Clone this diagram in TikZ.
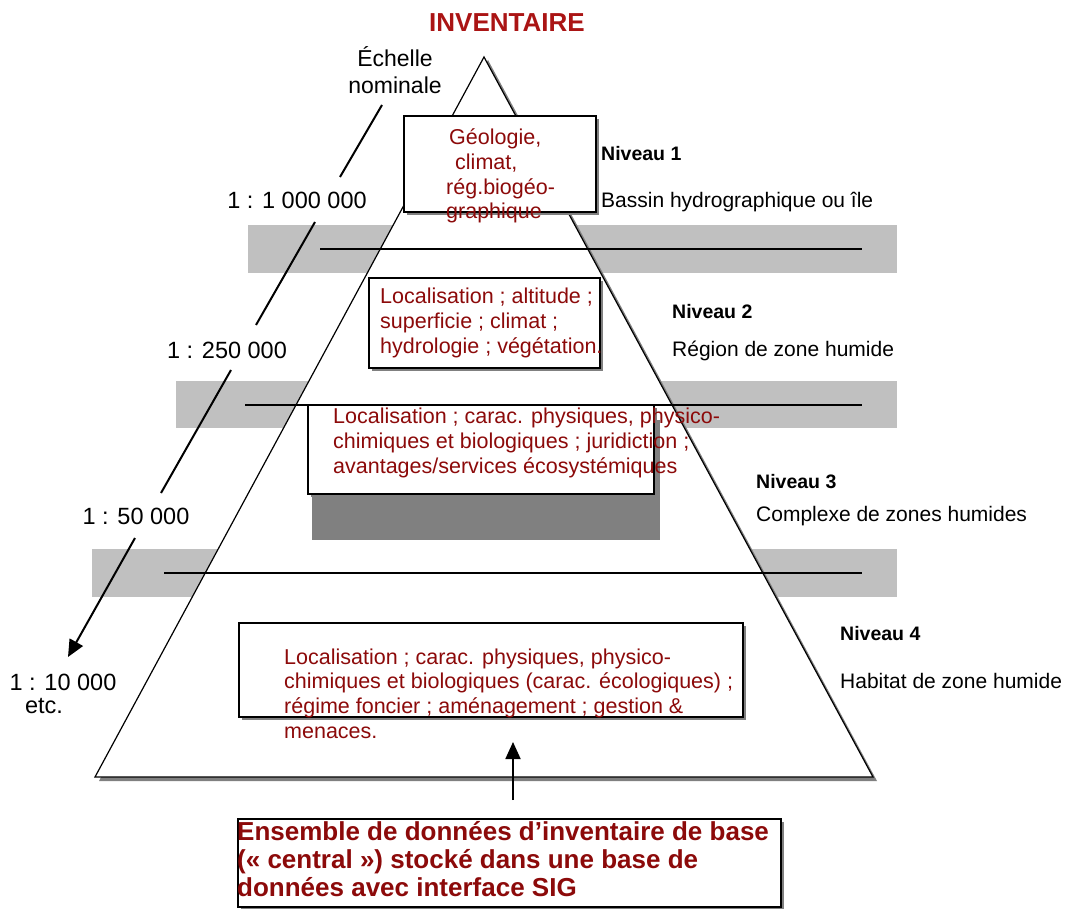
\documentclass[tikz,border=0pt]{standalone}
\usepackage{fontspec}
\setmainfont{Liberation Sans}
\usetikzlibrary{arrows.meta}
\definecolor{boxred}{RGB}{140,10,10}
\definecolor{titlered}{RGB}{170,20,20}
\definecolor{bandgrey}{RGB}{192,192,192}
\definecolor{shadegrey}{RGB}{128,128,128}

\begin{document}
\begin{tikzpicture}[x=1pt,y=-1pt,
    boxtext/.style={text=boxred,font=\fontsize{21.5}{24.8}\selectfont,align=left,anchor=base west,inner sep=0pt},
    scaletext/.style={font=\fontsize{23.5}{27}\selectfont,align=center,anchor=base,inner sep=0pt},
    leveltitle/.style={font=\bfseries\fontsize{19.5}{22}\selectfont,anchor=base west,inner sep=0pt},
    leveltext/.style={font=\fontsize{21}{24}\selectfont,anchor=base west,inner sep=0pt},
    framebox/.style={fill=white,draw=black,line width=1.2pt},
    boxshadow/.style={fill=shadegrey}]
  \useasboundingbox (0,0) rectangle (1067,909);

  % grey bands between the levels
  \fill[bandgrey] (248,225) rectangle (897,273);
  \fill[bandgrey] (176,381) rectangle (897,428);
  \fill[bandgrey] (92,549) rectangle (897,597);

  % pyramid with its shadow
  \fill[shadegrey] (488,60) -- (877,781) -- (99,781) -- cycle;
  \draw[fill=white,line width=1.2pt] (484,57) -- (873,777) -- (95,777) -- cycle;

  \begin{scope}[line width=1.2pt]
    \draw (320,249) -- (862,249);
    \draw (245,405) -- (862,405);
    \draw (164,573) -- (862,573);
  \end{scope}

  % level boxes
  \fill[boxshadow] (407,119) rectangle (599,215);
  \draw[framebox] (404,116) rectangle (596,212);
  \fill[boxshadow] (372,281) rectangle (603,371);
  \draw[framebox] (369,278) rectangle (600,368);
  \fill[shadegrey] (312,420) rectangle (660,540);
  \fill[boxshadow] (311,408) rectangle (657,497);
  \draw[framebox] (308,405) rectangle (654,494);
  \fill[boxshadow] (242,626) rectangle (746,720);
  \draw[framebox] (239,623) rectangle (743,717);
  \fill[boxshadow] (241,822) rectangle (784,910);
  \draw[framebox] (238,819) rectangle (781,907);

  \node (title) at (507,31.5) [anchor=base,inner sep=0pt,text=titlered,font=\bfseries\fontsize{26}{30}\selectfont] {INVENTAIRE};

  \node (geo) at (446,219) [boxtext] {\hspace*{3pt}Géologie,\\ \hspace*{9pt}climat,\\ rég.biogéo-\\ graphique};
  \node (loc2) at (380,353.5) [boxtext] {Localisation ; altitude ;\\ superficie ; climat ;\\ hydrologie ; végétation.};
  \node (loc3) at (333,473.5) [boxtext] {Localisation ; carac. physiques, physico-\\ chimiques et biologiques ; juridiction ;\\ avantages/services écosystémiques};
  \node (loc4) at (284,738.5) [boxtext] {Localisation ; carac. physiques, physico-\\ chimiques et biologiques (carac. écologiques) ;\\ régime foncier ; aménagement ; gestion \&\\ menaces.};
  \node (central) at (237,896) [boxtext,font=\bfseries\fontsize{26}{27.6}\selectfont] {Ensemble de données d’inventaire de base\\ (« central ») stocké dans une base de\\ données avec interface SIG};

  % level names
  \node (niv1) at (601,161) [leveltitle] {Niveau 1};
  \node (bassin) at (601,208) [leveltext] {Bassin hydrographique ou île};
  \node (niv2) at (672,318) [leveltitle] {Niveau 2};
  \node (region) at (672,356) [leveltext] {Région de zone humide};
  \node (niv3) at (756,488) [leveltitle] {Niveau 3};
  \node (complexe) at (756,521) [leveltext] {Complexe de zones humides};
  \node (niv4) at (840,640) [leveltitle] {Niveau 4};
  \node (habitat) at (840,688) [leveltext] {Habitat de zone humide};

  % nominal scale
  \node (echelle) at (395,94) [scaletext,font=\fontsize{23}{27}\selectfont] {Échelle\\ nominale};
  \node (s1) at (297,209) [scaletext] {1 : 1 000 000};
  \node (s2) at (227,358) [scaletext] {1 : 250 000};
  \node (s3) at (136,524) [scaletext] {1 : 50 000};
  \node (s4) at (63,690) [scaletext] {1 : 10 000};
  \node (etc) at (44,713) [scaletext] {etc.};

  \coordinate (a0) at (382,105);
  \coordinate (a1) at (340,177);
  \coordinate (b0) at (315,222);
  \coordinate (b1) at (256,325);
  \coordinate (c0) at (231,370);
  \coordinate (c1) at (161,493);
  \coordinate (d0) at (135,538);
  \coordinate (d1) at (68,657);
  \begin{scope}[line width=2pt]
    \draw (a0) -- (a1);
    \draw (b0) -- (b1);
    \draw (c0) -- (c1);
    \draw[-{Triangle[length=17pt,width=15pt]}] (d0) -- (d1);
  \end{scope}

  % link from the central data set
  \coordinate (foot) at (513,800);
  \coordinate (tip) at (513,742);
  \draw[line width=1.8pt,-{Triangle[length=17pt,width=15pt]}] (foot) -- (tip);

\end{tikzpicture}
\end{document}
